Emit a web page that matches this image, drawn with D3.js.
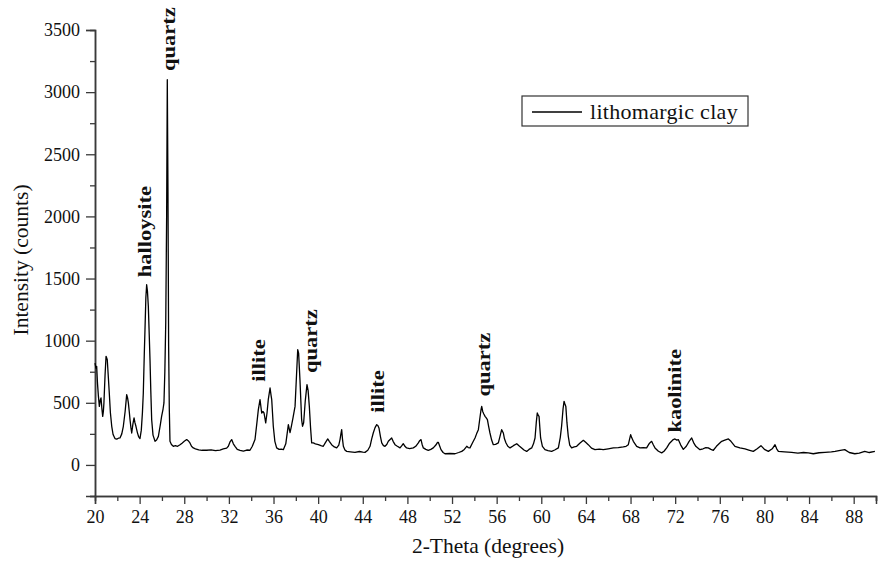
<!DOCTYPE html>
<html>
<head>
<meta charset="utf-8">
<script src="https://cdn.jsdelivr.net/npm/d3@7"></script>
<style>
  html, body { margin: 0; padding: 0; background: #fff; }
  svg { display: block; }
  text { font-family: "Liberation Serif", "Times New Roman", serif; fill: #111; }
</style>
</head>
<body>
<svg id="chart" width="883" height="562"></svg>
<script>
// XRD scan of lithomargic clay: 2-theta (degrees) vs intensity (counts)
const twoTheta = [
  20.00,20.08,20.15,20.22,20.30,20.39,20.47,20.54,20.62,20.69,20.75,20.80,20.90,20.99,21.05,21.10,21.20,21.28,21.38,21.50,
  21.62,21.79,21.95,22.10,22.24,22.40,22.54,22.70,22.84,22.92,22.99,23.07,23.14,23.22,23.29,23.40,23.50,23.58,23.67,23.80,
  23.92,24.03,24.15,24.25,24.33,24.42,24.48,24.56,24.63,24.70,24.78,24.86,24.93,25.00,25.08,25.20,25.38,25.52,25.68,25.85,
  25.97,26.10,26.18,26.26,26.34,26.42,26.48,26.54,26.60,26.66,26.72,26.85,27.02,27.20,27.40,27.62,27.80,28.00,28.22,28.35,
  28.51,28.65,28.81,29.00,29.30,29.60,30.01,30.40,30.80,31.20,31.50,31.80,31.95,32.10,32.25,32.40,32.55,32.75,33.00,33.30,
  33.60,33.89,34.10,34.34,34.50,34.64,34.79,34.94,35.05,35.15,35.30,35.42,35.53,35.69,35.78,35.84,35.98,36.12,36.28,36.50,
  36.70,36.88,37.10,37.33,37.48,37.60,37.75,37.93,38.05,38.17,38.25,38.37,38.52,38.60,38.70,38.85,39.00,39.10,39.21,39.32,
  39.42,39.57,39.75,40.02,40.25,40.46,40.65,40.86,41.00,41.21,41.45,41.66,41.85,41.96,42.04,42.11,42.18,42.26,42.40,42.56,
  42.90,43.30,43.70,44.00,44.20,44.45,44.65,44.80,44.94,45.10,45.25,45.35,45.45,45.58,45.70,45.85,45.99,46.15,46.29,46.45,
  46.59,46.72,46.89,47.10,47.34,47.50,47.63,47.78,47.93,48.20,48.53,48.75,48.98,49.10,49.22,49.32,49.43,49.65,49.87,50.10,
  50.32,50.55,50.70,50.77,50.90,51.01,51.20,51.37,51.80,52.27,52.60,52.87,53.10,53.32,53.45,53.61,53.85,54.06,54.20,54.36,
  54.50,54.60,54.66,54.75,54.85,54.96,55.05,55.17,55.28,55.40,55.55,55.70,55.90,56.15,56.30,56.45,56.52,56.60,56.70,56.84,
  57.00,57.20,57.50,57.80,58.00,58.24,58.45,58.69,58.90,59.14,59.30,59.44,59.55,59.64,59.72,59.80,59.87,59.94,60.10,60.33,
  60.60,60.93,61.20,61.53,61.70,61.82,61.95,62.04,62.12,62.20,62.30,62.42,62.55,62.72,62.95,63.17,63.45,63.77,64.00,64.21,
  64.50,64.81,65.20,65.56,66.00,66.46,66.90,67.35,67.60,67.80,67.92,68.01,68.10,68.25,68.55,68.85,69.15,69.44,69.70,69.89,
  70.05,70.19,70.50,70.79,71.00,71.24,71.50,71.83,71.98,72.15,72.28,72.50,72.73,73.00,73.25,73.48,73.65,73.85,74.22,74.50,
  74.75,74.97,75.20,75.42,75.70,76.00,76.17,76.45,76.77,77.00,77.36,77.80,78.26,78.60,79.00,79.35,79.69,80.00,80.35,80.70,
  80.95,81.10,81.25,81.80,82.44,83.00,83.50,83.93,84.38,84.90,85.43,86.00,86.33,86.80,87.20,87.60,88.10,88.50,88.99,89.40,
  89.90
];
const counts = [
  820,780,793,660,560,471,520,539,450,391,430,499,720,874,860,847,700,579,420,311,
  245,212,208,215,217,250,311,430,566,540,499,430,364,300,257,330,378,340,311,260,
  225,212,280,420,579,900,1088,1350,1450,1400,1276,1050,847,600,364,240,190,200,230,320,
  391,450,499,750,1142,2000,3100,2200,954,450,190,165,150,155,150,163,175,190,204,195,
  177,150,137,130,122,118,118,122,115,120,129,135,150,185,204,170,150,125,118,112,
  120,118,150,204,330,445,525,418,430,418,338,420,525,619,560,525,311,190,137,125,
  128,123,170,324,260,311,380,471,700,928,900,686,364,311,340,520,646,600,471,300,
  177,177,170,163,155,150,180,209,190,163,145,137,160,204,250,284,210,150,120,109,
  105,101,108,103,101,118,150,210,257,300,324,318,298,230,177,155,150,165,190,205,
  217,190,163,150,137,155,171,150,137,132,137,150,177,195,204,165,137,125,118,125,
  137,160,182,182,150,123,100,90,92,90,100,109,125,150,140,137,180,217,250,284,
  380,445,471,430,410,391,380,364,310,257,200,163,165,177,230,284,270,257,210,177,
  150,137,155,171,155,137,120,109,125,137,170,217,340,418,400,391,300,217,150,123,
  115,109,120,137,220,311,450,512,490,471,340,230,160,137,145,150,175,198,180,163,
  135,123,128,123,130,137,140,145,150,163,210,244,220,190,150,137,140,137,175,190,
  160,137,110,97,110,137,175,204,209,200,204,160,125,150,190,217,180,150,123,130,
  140,137,125,118,150,177,190,200,209,190,150,137,129,120,109,130,155,125,109,130,
  163,130,109,105,101,95,100,97,90,98,101,105,109,118,123,100,90,95,109,100,
  109
];

// Axis ticks
const xMajorTicks = d3.range(20, 89, 4);          // 20, 24, ... 88
const xMinorTicks = d3.range(22, 91, 4);          // 22, 26, ... 90
const yMajorTicks = [0, 500, 1000, 1500, 2000, 2500, 3000, 3500];
const yMinorTicks = [-250, 250, 750, 1250, 1750, 2250, 2750, 3250];

// Phase labels placed above their peaks
const phaseNames = ["quartz", "halloysite", "illite", "quartz", "illite", "quartz", "kaolinite"];
const phaseTheta = [26.6, 24.4, 34.7, 39.3, 45.3, 54.8, 71.9];
const phaseBase  = [3170, 1510, 670, 740, 420, 550, 260];

const seriesName = "lithomargic clay";

const svg = d3.select("#chart");
const x = d3.scaleLinear().domain([20, 90]).range([95, 876]);
const y = d3.scaleLinear().domain([-250, 3500]).range([496, 30]);

const axisColor = "#3a3a3a";

function styleAxis(g) {
  g.select(".domain").attr("stroke", axisColor).attr("stroke-width", 1.5);
  g.selectAll(".tick line").attr("stroke", axisColor).attr("stroke-width", 1.3);
}

// minor ticks
svg.append("g").attr("transform", "translate(0,496)")
  .call(d3.axisBottom(x).tickValues(xMinorTicks).tickSize(5).tickFormat(""))
  .call(styleAxis);
svg.append("g").attr("transform", "translate(95,0)")
  .call(d3.axisLeft(y).tickValues(yMinorTicks).tickSize(5).tickFormat(""))
  .call(styleAxis);

// major ticks with labels
const xAxis = svg.append("g").attr("transform", "translate(0,496)")
  .call(d3.axisBottom(x).tickValues(xMajorTicks).tickSize(8).tickPadding(6).tickFormat(d3.format("d")))
  .call(styleAxis);
xAxis.selectAll(".tick text")
  .attr("font-size", 18).attr("fill", "#111")
  .attr("font-family", "Liberation Serif, Times New Roman, serif");

const yAxis = svg.append("g").attr("transform", "translate(95,0)")
  .call(d3.axisLeft(y).tickValues(yMajorTicks).tickSize(9).tickPadding(6).tickFormat(d3.format("d")))
  .call(styleAxis);
yAxis.selectAll(".tick text")
  .attr("font-size", 18).attr("fill", "#111")
  .attr("font-family", "Liberation Serif, Times New Roman, serif");

// axis titles
svg.append("text")
  .attr("x", 488).attr("y", 553)
  .attr("text-anchor", "middle")
  .attr("font-size", 21.5)
  .text("2-Theta (degrees)");

svg.append("text")
  .attr("transform", "translate(28,260) rotate(-90)")
  .attr("text-anchor", "middle")
  .attr("font-size", 21.5)
  .text("Intensity (counts)");

// diffraction trace
const pts = twoTheta.map((t, i) => [t, counts[i]]);
svg.append("path")
  .datum(pts)
  .attr("fill", "none")
  .attr("stroke", "#000")
  .attr("stroke-width", 1.3)
  .attr("stroke-linejoin", "round")
  .attr("d", d3.line().x(d => x(d[0])).y(d => y(d[1])));

// phase labels (bold, set slightly narrow across the baseline)
phaseNames.forEach((name, i) => {
  svg.append("text")
    .attr("transform", `translate(${x(phaseTheta[i])},${y(phaseBase[i])}) rotate(-90) scale(1,0.82)`)
    .attr("dy", "0.35em")
    .attr("font-size", 22.5)
    .attr("font-weight", "bold")
    .attr("fill", "#000")
    .text(name);
});

// legend
const legend = svg.append("g");
legend.append("rect")
  .attr("x", 522).attr("y", 96).attr("width", 226).attr("height", 30)
  .attr("fill", "#fff").attr("stroke", "#333").attr("stroke-width", 1.2);
legend.append("line")
  .attr("x1", 532).attr("x2", 582).attr("y1", 112).attr("y2", 112)
  .attr("stroke", "#000").attr("stroke-width", 1.3);
legend.append("text")
  .attr("x", 590).attr("y", 118.5)
  .attr("font-size", 22)
  .attr("letter-spacing", 0.3)
  .text(seriesName);
</script>
</body>
</html>
